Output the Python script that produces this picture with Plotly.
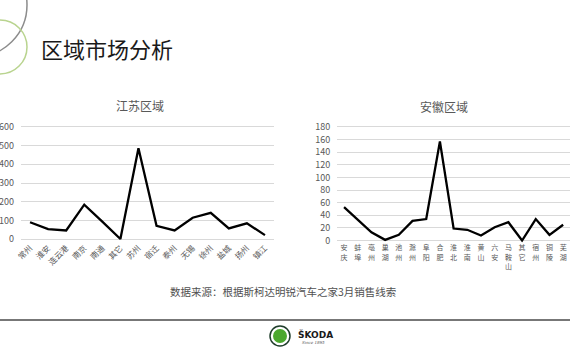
import plotly.graph_objects as go

# ---------------- data ----------------
js_categories = ["常州", "淮安", "连云港", "南京", "南通", "其它", "苏州",
                 "宿迁", "泰州", "无锡", "徐州", "盐城", "扬州", "镇江"]
js_values = [90, 53, 46, 184, 93, 0, 486, 71, 46, 114, 140, 57, 84, 21]

ah_categories = ["安庆", "蚌埠", "亳州", "巢湖", "池州", "滁州", "阜阳", "合肥", "淮北",
                 "淮南", "黄山", "六安", "马鞍山", "其它", "宿州", "铜陵", "芜湖"]
ah_values = [53, 33, 13, 1, 9, 31, 34, 157, 19, 17, 8, 21, 29, 0, 34, 9, 25]

js_yticks = [0, 100, 200, 300, 400, 500, 600]
ah_yticks = [0, 20, 40, 60, 80, 100, 120, 140, 160, 180]

title_main = "区域市场分析"
title_js = "江苏区域"
title_ah = "安徽区域"
source_text = "数据来源：根据斯柯达明锐汽车之家3月销售线索"

W, H = 570, 360
FONT = "Noto Sans CJK SC, Noto Sans, sans-serif"
GREY = "#595959"
GRID = "#d9d9d9"

fig = go.Figure()
fig.add_trace(go.Scatter(x=js_categories, y=js_values, mode="lines",
                         line=dict(color="#000000", width=2.3),
                         xaxis="x", yaxis="y", showlegend=False, hoverinfo="skip"))
fig.add_trace(go.Scatter(x=ah_categories, y=ah_values, mode="lines",
                         line=dict(color="#000000", width=2.3),
                         xaxis="x2", yaxis="y2", showlegend=False, hoverinfo="skip"))

def px(x):
    return x / W

def py(y):
    return 1 - y / H

axis_common = dict(showline=False, zeroline=False, automargin=False,
                   fixedrange=True)

fig.update_layout(
    width=W, height=H,
    margin=dict(l=0, r=0, t=0, b=0),
    paper_bgcolor="white", plot_bgcolor="white",
    font=dict(family=FONT, color=GREY),
    hovermode=False,
    xaxis=dict(domain=[px(21), px(274)], type="category",
               range=[-0.5, len(js_categories) - 0.5],
               showgrid=False, tickangle=-45, ticks="",
               tickfont=dict(size=8, color=GREY), anchor="y", **axis_common),
    yaxis=dict(domain=[py(240.9), py(125.1)], range=[-10, 610],
               tickvals=js_yticks, showgrid=True, gridcolor=GRID, gridwidth=1,
               ticks="", ticklabelstandoff=6,
               tickfont=dict(size=9, color=GREY), anchor="x", **axis_common),
    xaxis2=dict(domain=[px(337.2), 1.0], type="category",
                range=[-0.5, len(ah_categories) - 0.5],
                tickvals=ah_categories,
                ticktext=["<br>".join(list(c)) for c in ah_categories],
                showgrid=False, tickangle=0, ticks="",
                tickfont=dict(size=7, color=GREY), anchor="y2", **axis_common),
    yaxis2=dict(domain=[py(242.4), py(125.1)], range=[-3, 183],
                tickvals=ah_yticks, showgrid=True, gridcolor=GRID, gridwidth=1,
                ticks="", ticklabelstandoff=6,
                tickfont=dict(size=9, color=GREY), anchor="x2", **axis_common),
)

# decorative circles top-left
fig.add_shape(type="circle", xref="paper", yref="paper",
              x0=px(-25 - 52), x1=px(-25 + 52), y0=py(5 + 52), y1=py(5 - 52),
              line=dict(color="#8c8c8c", width=1.5), layer="above")
fig.add_shape(type="circle", xref="paper", yref="paper",
              x0=px(-27), x1=px(27), y0=py(47 + 27), y1=py(47 - 27),
              line=dict(color="#b9d48f", width=1.5), layer="above")

# bottom separator line
fig.add_shape(type="line", xref="paper", yref="paper",
              x0=0, x1=1, y0=py(320), y1=py(320),
              line=dict(color="#4a4a4a", width=1.5))

# logo (approximation)
fig.add_shape(type="circle", xref="paper", yref="paper",
              x0=px(270), x1=px(290), y0=py(346), y1=py(326),
              line=dict(color="#1f3d2b", width=1.5), fillcolor="#ffffff")
fig.add_shape(type="circle", xref="paper", yref="paper",
              x0=px(273), x1=px(287), y0=py(343), y1=py(329),
              line=dict(color="#4ba82e", width=0), fillcolor="#4ba82e")

annotations = [
    dict(text=title_main, x=px(39), y=py(48), xanchor="left", yanchor="middle",
         font=dict(size=22, color="#1a1a1a", family=FONT)),
    dict(text=title_js, x=px(140), y=py(105), xanchor="center", yanchor="middle",
         font=dict(size=12, color=GREY, family=FONT)),
    dict(text=title_ah, x=px(444), y=py(106), xanchor="center", yanchor="middle",
         font=dict(size=12, color=GREY, family=FONT)),
    dict(text=source_text, x=px(283), y=py(291), xanchor="center", yanchor="middle",
         font=dict(size=10.5, color="#505050", family=FONT)),
    dict(text="<b>ŠKODA</b>", x=px(296), y=py(334), xanchor="left", yanchor="middle",
         font=dict(size=9, color="#1a1a1a", family="DejaVu Sans")),
    dict(text="<i>Since 1895</i>", x=px(300), y=py(342), xanchor="left", yanchor="middle",
         font=dict(size=4, color="#555555", family="DejaVu Serif")),
]
for a in annotations:
    a.update(xref="paper", yref="paper", showarrow=False)
fig.update_layout(annotations=annotations)

fig.write_html("out.html",
               config={"displayModeBar": False, "staticPlot": True},
               post_script="document.body.style.margin='0px';document.body.style.overflow='hidden';")
